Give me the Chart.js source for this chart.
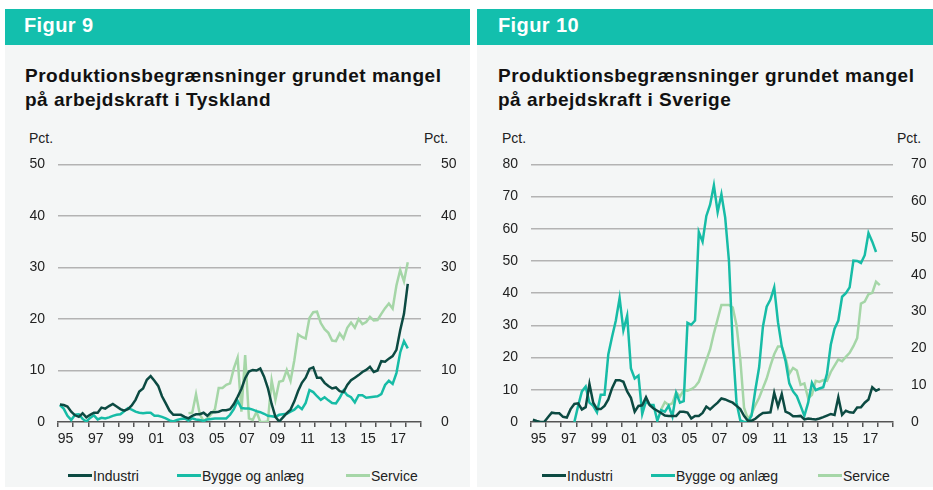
<!DOCTYPE html>
<html>
<head>
<meta charset="utf-8">
<script src="https://cdn.jsdelivr.net/npm/chart.js@4.4.1/dist/chart.umd.min.js"></script>
<style>
  body { margin: 0; background: #fff; font-family: "Liberation Sans", Arial, sans-serif; }
  .panel { position: absolute; top: 9px; height: 478px; background: #f4f6f6; }
  .head { height: 36px; background: #13bfad; color: #fff; font-weight: bold; font-size: 20px;
          line-height: 32px; letter-spacing: 0.4px; }
  .title { position: absolute; font-weight: bold; font-size: 19px; line-height: 23.5px;
           letter-spacing: 0.5px; color: #111; white-space: nowrap; }
  .pct { position: absolute; top: 131px; font-size: 14px; line-height: 14px; color: #222; }
  .leg { position: absolute; top: 468px; font-size: 14px; line-height: 16px; color: #222; white-space: nowrap; }
  .leg i { display: inline-block; width: 24px; height: 3px; vertical-align: 4px; margin-right: 1px; }
  canvas { position: absolute; top: 143px; }
</style>
</head>
<body>
<div class="panel" style="left:5px;width:465px"><div class="head" style="padding-left:19px">Figur 9</div></div>
<div class="panel" style="left:477px;width:456px"><div class="head" style="padding-left:21px">Figur 10</div></div>

<div class="title" style="left:25px;top:64px">Produktionsbegrænsninger grundet mangel<br>på arbejdskraft i Tyskland</div>
<div class="title" style="left:498px;top:64px">Produktionsbegrænsninger grundet mangel<br>på arbejdskraft i Sverige</div>

<div class="pct" style="left:29px">Pct.</div>
<div class="pct" style="left:424px">Pct.</div>
<div class="pct" style="left:502px">Pct.</div>
<div class="pct" style="left:897px">Pct.</div>

<canvas id="de" width="465" height="307" style="left:5px"></canvas>
<canvas id="se" width="455" height="307" style="left:478px"></canvas>

<div class="leg" style="left:68px"><i style="background:#0c4a42"></i>Industri</div>
<div class="leg" style="left:177px"><i style="background:#17bca6"></i>Bygge og anlæg</div>
<div class="leg" style="left:346px"><i style="background:#a5d6a7"></i>Service</div>
<div class="leg" style="left:542px"><i style="background:#0c4a42"></i>Industri</div>
<div class="leg" style="left:651px"><i style="background:#17bca6"></i>Bygge og anlæg</div>
<div class="leg" style="left:818px"><i style="background:#a5d6a7"></i>Service</div>

<script>
// Quarterly observations 1995K1 - 2018K1
const firstYear = 1995;
const seriesNames = ['Industri', 'Bygge og anlæg', 'Service'];
const colors = ['#0c4a42', '#17bca6', '#a5d6a7'];

// Tyskland (pct.)
const deIndustri = [
  3.4, 3.3, 3.0, 2.0, 1.3, 1.0, 1.7, 0.9, 1.4, 1.8,
  1.8, 2.8, 2.6, 3.1, 3.5, 3.0, 2.5, 2.2, 2.5, 3.2,
  4.3, 5.9, 6.5, 8.2, 8.9, 8.0, 7.0, 5.0, 3.6, 2.2,
  1.4, 1.4, 1.4, 1.0, 0.7, 1.2, 1.5, 1.5, 1.8, 1.2,
  1.9, 1.9, 2.0, 2.3, 2.3, 2.5, 3.5, 4.9, 6.4, 8.5,
  9.8, 10.1, 10.0, 10.4, 8.8, 6.6, 3.5, 1.0, 0.1, 0.9,
  1.7, 2.4, 4.0, 6.0, 7.6, 8.6, 10.3, 10.6, 8.6, 8.6,
  7.6, 7.0, 6.5, 6.7, 6.0, 5.8, 7.2, 8.1, 8.6, 9.1,
  9.7, 10.1, 10.7, 9.7, 10.0, 11.8, 11.7, 12.3, 12.8, 14.0,
  17.8, 21.0, 26.8
];
const deBygge = [
  3.3, 2.6, 1.2, 0.4, 1.4, 1.5, 0.6, 0.1, 0.8, 1.3,
  0.5, 0.8, 0.7, 0.9, 1.2, 1.4, 1.5, 2.1, 2.7, 2.4,
  2.0, 1.8, 1.7, 1.8, 1.8, 1.2, 1.2, 1.0, 0.7, 0.3,
  0.1, 0.4, 0.6, 0.7, 0.3, 0.7, 0.5, 0.4, 0.2, 0.5,
  0.6, 0.7, 0.7, 0.7, 0.7, 1.4, 2.5, 4.1, 2.7, 2.6,
  2.6, 2.4, 2.1, 1.9, 1.6, 1.2, 1.1, 1.0, 1.4, 1.5,
  1.6, 2.0, 2.4, 3.1, 2.5, 3.7, 6.2, 5.8, 5.0, 4.3,
  4.8, 4.2, 3.7, 3.6, 4.7, 6.1, 5.2, 4.8, 3.8, 5.2,
  5.2, 4.7, 4.8, 4.9, 5.0, 5.4, 7.2, 8.0, 7.4, 9.5,
  13.5, 15.7, 14.3
];
const deService = [
  null, null, null, null, null, null, null, null, null, null,
  null, null, null, null, null, null, null, null, null, null,
  null, null, null, null, null, null, null, null, null, null,
  null, null, null, null, 1.7, 1.8, 5.4, 1.5, 0.2, 0.7,
  1.5, 2.5, 6.6, 6.6, 7.2, 7.5, 10.4, 12.5, 2.0, 13.0,
  0.7, 0.4, 2.0, 0, 0, 0.1, 8.1, 4.3, 7.8, 8.0,
  10.1, 8.0, 12.0, 17.0, 16.5, 16.2, 20.2, 21.3, 21.4, 19.2,
  18.0, 17.3, 15.8, 15.7, 17.2, 16.2, 18.3, 19.3, 18.3, 20.0,
  19.0, 19.4, 20.4, 19.7, 19.8, 21.0, 22.1, 23.0, 22.0, 26.5,
  29.5, 27.3, 31.0
];

// Sverige (pct.) - Service on the right axis
const seIndustri = [
  0.7, 0.3, 0, 0, 1.5, 2.9, 2.7, 2.7, 1.6, 1.4,
  4.0, 5.6, 5.8, 3.9, 4.6, 11.8, 6.0, 4.0, 4.0, 5.0,
  7.0, 10.5, 13.0, 13.0, 12.5, 9.5, 7.5, 3.2, 5.0, 5.2,
  7.7, 5.2, 4.2, 3.5, 2.8, 2.0, 1.9, 1.9, 1.9, 3.2,
  3.2, 2.9, 1.1, 1.9, 1.9, 2.8, 4.8, 3.9, 5.0, 6.0,
  7.3, 7.0, 6.5, 6.0, 5.0, 4.0, 1.9, 0.4, 0.4, 1.0,
  2.0, 2.8, 2.9, 3.0, 9.1, 4.8, 8.7, 3.2, 2.7, 1.8,
  1.8, 1.9, 0.8, 1.1, 0.9, 0.8, 1.1, 1.5, 2.0, 2.5,
  2.2, 7.7, 2.2, 3.5, 3.0, 2.9, 4.5, 4.6, 6.0, 7.0,
  10.8, 9.7, 10.3
];
const seBygge = [
  null, null, null, null, null, null, null, null, null, null,
  null, 0, 5.0, 9.5, 11.0, 6.0, 5.0, 3.0, 8.5, 8.5,
  21.0, 26.5, 31.5, 38.5, 28.5, 33.0, 16.6, 13.5, 14.4, 2.5,
  6.5, 5.3, 5.3, 0.4, 3.7, 3.2, 5.0, 1.7, 9.0, 6.0,
  6.5, 30.8, 30.2, 31.5, 59.0, 56.0, 64.0, 67.5, 73.5, 65.2,
  70.7, 63.5, 50.0, 24.0, 6.0, 0.5, 0, 0, 2.0, 10.0,
  17.0, 29.6, 35.8, 38.0, 41.8, 31.0, 23.5, 19.0, 12.0, 9.5,
  8.0, 5.0, 1.9, 6.0, 12.2, 9.9, 10.4, 10.8, 15.0, 24.0,
  29.0, 31.5, 38.9, 40.0, 41.8, 50.1, 50.0, 49.4, 51.8, 58.7,
  56.0, 52.8, null
];
const seService = [
  null, null, null, null, null, null, null, null, null, null,
  null, null, null, null, null, null, null, null, null, null,
  null, null, null, null, null, null, null, null, null, null,
  null, null, null, null, 3.4, 5.4, 4.6, 5.1, 8.1, 6.9,
  8.7, 8.5, 8.9, 9.6, 10.9, 13.8, 16.8, 19.7, 24.1, 28.0,
  31.8, 31.8, 31.8, 31.1, 26.3, 17.1, 3.9, 0.9, 2.2, 4.6,
  6.6, 9.2, 11.8, 15.3, 18.4, 20.5, 20.5, 17.5, 13.1, 14.7,
  14.0, 10.1, 10.5, 6.4, 7.4, 11.2, 10.9, 11.4, 11.2, 13.6,
  15.3, 17.0, 16.5, 17.7, 18.8, 20.6, 22.8, 32.2, 32.7, 34.7,
  35.1, 38.1, 37.2
];

const tickFont = { family: 'Liberation Sans', size: 14 };
const tickColor = '#222';

function toPoints(values) {
  return values.map((v, i) => ({ x: firstYear + i / 4 + 0.125, y: v }));
}

function makeDatasets(list, axes) {
  return list.map((values, k) => ({
    label: seriesNames[k],
    data: toPoints(values),
    yAxisID: axes[k],
    borderColor: colors[k],
    borderWidth: 2.5,
    pointRadius: 0,
    tension: 0,
    fill: false
  }));
}

function xAxis() {
  return {
    type: 'linear',
    min: 1995,
    max: 2019,
    afterBuildTicks: scale => {
      const t = [];
      for (let v = 1995; v <= 2019; v += 0.5) t.push({ value: v });
      scale.ticks = t;
    },
    afterFit: scale => { scale.height = 28; },
    ticks: {
      autoSkip: false,
      maxRotation: 0,
      padding: 4,
      color: tickColor,
      font: tickFont,
      callback: v => (v % 2 === 1.5 ? String(Math.floor(v)).slice(2) : '')
    },
    grid: {
      drawOnChartArea: false,
      tickLength: 5,
      lineWidth: 1.5,
      tickColor: ctx => (Number.isInteger(ctx.tick.value) ? '#555' : 'rgba(0,0,0,0)')
    },
    border: { display: true, color: '#555', width: 1.5 }
  };
}

function yAxis(max, width, padding, showGrid, position) {
  return {
    position: position,
    min: 0,
    max: max,
    afterFit: scale => { scale.width = width; },
    ticks: { stepSize: 10, padding: padding, color: tickColor, font: tickFont },
    grid: showGrid ? {
      drawTicks: false,
      lineWidth: 1.5,
      color: ctx => (ctx.tick.value === 0 ? 'rgba(0,0,0,0)' : '#b3b3b3')
    } : { display: false },
    border: { display: false }
  };
}

function makeChart(id, datasets, scales) {
  new Chart(document.getElementById(id), {
    type: 'line',
    data: { datasets: datasets },
    options: {
      responsive: false,
      animation: false,
      devicePixelRatio: 1,
      layout: { padding: 0 },
      plugins: { legend: { display: false }, tooltip: { enabled: false } },
      scales: scales
    }
  });
}

makeChart('de', makeDatasets([deIndustri, deBygge, deService], ['y', 'y', 'y']), {
  x: xAxis(),
  y: yAxis(50, 53, 13, true, 'left'),
  y2: yAxis(50, 49, 12, false, 'right')
});

makeChart('se', makeDatasets([seIndustri, seBygge, seService], ['y', 'y', 'y2']), {
  x: xAxis(),
  y: yAxis(80, 53, 13, true, 'left'),
  y2: yAxis(70, 40, 10, false, 'right')
});
</script>
</body>
</html>
